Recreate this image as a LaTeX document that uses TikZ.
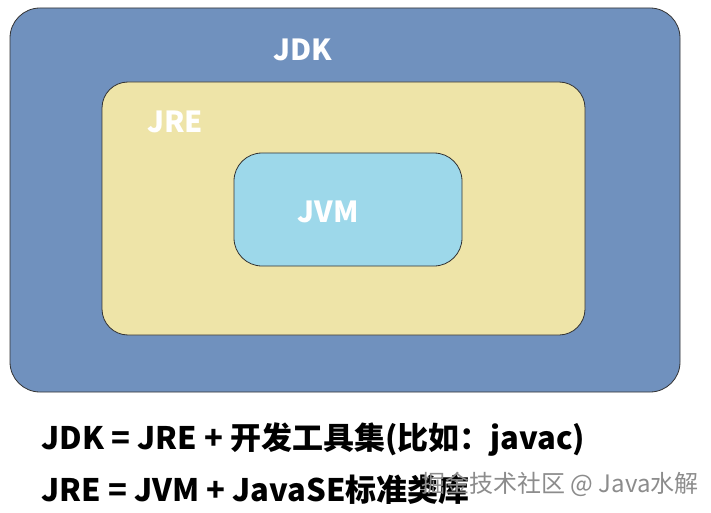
\documentclass[tikz,border=0pt]{standalone}
\usepackage{fontspec}
\setmainfont{Noto Sans CJK SC}
\begin{document}
\begin{tikzpicture}[x=1pt,y=-1pt,
  box/.style={draw=black!80,line width=0.8pt},
  lbl/.style={text=white,font=\bfseries\fontsize{29}{32}\selectfont},
  captext/.style={anchor=west,font=\bfseries\fontsize{31}{36}\selectfont}]
\useasboundingbox (0,0) rectangle (711,513);
\fill[white] (0,0) rectangle (711,513);
\draw[box,fill={rgb,255:red,112;green,145;blue,190},rounded corners=30pt] (10,8) rectangle (680,392);
\draw[box,fill={rgb,255:red,238;green,228;blue,168},rounded corners=26pt] (102,82) rectangle (585,335);
\draw[box,fill={rgb,255:red,157;green,216;blue,234},rounded corners=28pt] (234,153) rectangle (462,266);
\node[lbl] (jdk) at (303,50) {JDK};
\node[lbl] (jre) at (175,122) {JRE};
\node[lbl] (jvm) at (328,212) {JVM};
\node[captext] (l1) at (38,440) {JDK = JRE + 开发工具集(比如：javac)};
\node[captext] (l2) at (38,490) {JRE = JVM + JavaSE标准类库};
\node[anchor=west,text=black!45,font=\fontsize{24}{28}\selectfont] (wm) at (418,484) {掘金技术社区 @ Java水解};
\end{tikzpicture}
\end{document}
